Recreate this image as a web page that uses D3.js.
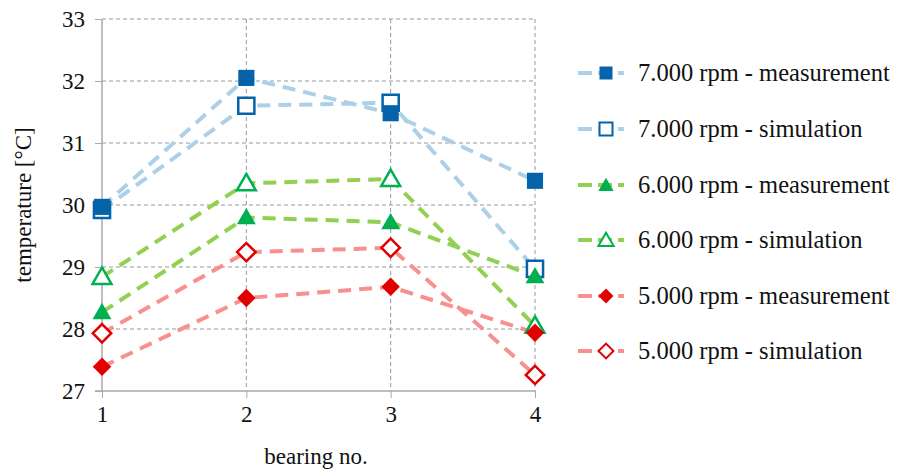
<!DOCTYPE html>
<html>
<head>
<meta charset="utf-8">
<script src="https://cdn.jsdelivr.net/npm/d3@7"></script>
<style>
  body { margin: 0; background: #fff; }
  svg text { font-family: "Liberation Serif", "Times New Roman", Tinos, Times, "DejaVu Serif", "Noto Serif", serif; fill: #111; }
</style>
</head>
<body>
<svg id="chart" width="898" height="471"></svg>
<script>
// data
var bearings = [1, 2, 3, 4];
var yTicks = [27, 28, 29, 30, 31, 32, 33];

var rpm7000Meas = [29.97, 32.05, 31.48, 30.39];
var rpm7000Sim  = [29.92, 31.60, 31.65, 28.97];
var rpm6000Meas = [28.27, 29.80, 29.72, 28.85];
var rpm6000Sim  = [28.84, 30.35, 30.42, 28.05];
var rpm5000Meas = [27.39, 28.50, 28.68, 27.94];
var rpm5000Sim  = [27.93, 29.24, 29.31, 27.26];

var seriesNames = [
    "7.000 rpm - measurement", "7.000 rpm - simulation",
    "6.000 rpm - measurement", "6.000 rpm - simulation",
    "5.000 rpm - measurement", "5.000 rpm - simulation"
];
var seriesValues = [rpm7000Meas, rpm7000Sim, rpm6000Meas, rpm6000Sim, rpm5000Meas, rpm5000Sim];

// styles per series
var lineColors = ["#abd0e7", "#abd0e7", "#92d050", "#92d050", "#f7908e", "#f7908e"];
var markColors = ["#0563a9", "#0563a9", "#00b050", "#00b050", "#e00000", "#e00000"];
var markShapes = ["square", "square", "triangle", "triangle", "diamond", "diamond"];
var filled = [true, false, true, false, true, false];

var series = seriesNames.map(function (n, i) {
    return { name: n, values: seriesValues[i], line: lineColors[i], mark: markColors[i],
             shape: markShapes[i], filled: filled[i] };
});

var svg = d3.select("#chart");
var plotLeft = 102, plotRight = 535, plotTop = 19, plotBottom = 391;

var x = d3.scaleLinear().domain([1, 4]).range([plotLeft, plotRight]);
var y = d3.scaleLinear().domain([27, 33]).range([plotBottom, plotTop]);

// grid
var grid = svg.append("g");
grid.selectAll("line.h").data(yTicks.slice(1)).enter().append("line")
    .attr("x1", plotLeft).attr("x2", plotRight)
    .attr("y1", function (d) { return y(d); }).attr("y2", function (d) { return y(d); })
    .attr("stroke", "#999").attr("stroke-width", 1).attr("stroke-dasharray", "4,3");
grid.selectAll("line.v").data(bearings.slice(1)).enter().append("line")
    .attr("x1", function (d) { return x(d); }).attr("x2", function (d) { return x(d); })
    .attr("y1", plotTop).attr("y2", plotBottom)
    .attr("stroke", "#999").attr("stroke-width", 1).attr("stroke-dasharray", "4,3");

// axes
var yAxis = d3.axisLeft(y).tickValues(yTicks).tickSize(7).tickPadding(10).tickFormat(d3.format("d"));
var xAxis = d3.axisBottom(x).tickValues(bearings).tickSize(7).tickPadding(8).tickFormat(d3.format("d"));

var gy = svg.append("g").attr("transform", "translate(" + plotLeft + ",0)").call(yAxis);
var gx = svg.append("g").attr("transform", "translate(0," + plotBottom + ")").call(xAxis);
[gy, gx].forEach(function (g) {
    g.attr("font-family", null).attr("font-size", null);
    g.select(".domain").attr("stroke", "#aaa").attr("stroke-width", 1.5);
    g.selectAll(".tick line").attr("stroke", "#aaa").attr("stroke-width", 1);
    g.selectAll(".tick text").style("font-size", "23px").attr("fill", "#111");
});
gy.select(".domain").attr("d", "M0," + plotTop + "V" + plotBottom);
gx.select(".domain").attr("d", "M" + (plotLeft - 7) + ",0H" + plotRight);

// axis titles
svg.append("text").attr("x", 316).attr("y", 464).attr("text-anchor", "middle")
    .style("font-size", "23px").text("bearing no.");
svg.append("text").attr("transform", "translate(31,205) rotate(-90)").attr("text-anchor", "middle")
    .style("font-size", "23px").text("temperature [°C]");

// marker symbols
function symbolPath(shape, big) {
    var k = big ? 1 : 0.65;
    if (shape === "square") return d3.symbol(d3.symbolSquare, 260 * k)();
    if (shape === "triangle") return d3.symbol(d3.symbolTriangle, 155 * k)();
    return d3.symbol(d3.symbolSquare, 170 * k)();
}
function symbolRot(shape) { return shape === "diamond" ? " rotate(45)" : ""; }
function symbolShift(shape) { return shape === "triangle" ? 1.5 : 0; }

// lines
var line = d3.line().x(function (d, i) { return x(bearings[i]); }).y(function (d) { return y(d); });
svg.append("g").selectAll("path").data(series).enter().append("path")
    .attr("d", function (s) { return line(s.values); })
    .attr("fill", "none").attr("stroke", function (s) { return s.line; })
    .attr("stroke-width", 4).attr("stroke-dasharray", "13,8");

// markers: simulation first, measurement on top
var order = series.filter(function (s) { return !s.filled; }).concat(series.filter(function (s) { return s.filled; }));
order.forEach(function (s) {
    svg.append("g").selectAll("path").data(s.values).enter().append("path")
        .attr("d", symbolPath(s.shape, true))
        .attr("transform", function (d, i) {
            return "translate(" + x(bearings[i]) + "," + (y(d) + symbolShift(s.shape)) + ")" + symbolRot(s.shape);
        })
        .attr("fill", s.filled ? s.mark : "#fff")
        .attr("stroke", s.filled ? "none" : s.mark)
        .attr("stroke-width", 2.5);
});

// legend
var legY = [73, 129, 185, 240, 296, 351];
var leg = svg.append("g").selectAll("g").data(series).enter().append("g")
    .attr("transform", function (s, i) { return "translate(0," + legY[i] + ")"; });
leg.append("line").attr("x1", 578).attr("x2", 624).attr("y1", 0).attr("y2", 0)
    .attr("stroke", function (s) { return s.line; }).attr("stroke-width", 4).attr("stroke-dasharray", "14,6");
leg.append("path")
    .attr("d", function (s) { return symbolPath(s.shape, false); })
    .attr("transform", function (s) { return "translate(606," + symbolShift(s.shape) + ")" + symbolRot(s.shape); })
    .attr("fill", function (s) { return s.filled ? s.mark : "#fff"; })
    .attr("stroke", function (s) { return s.filled ? "none" : s.mark; })
    .attr("stroke-width", 2);
leg.append("text").attr("x", 638).attr("y", 8).style("font-size", "24.5px")
    .text(function (s) { return s.name; });
</script>
</body>
</html>
